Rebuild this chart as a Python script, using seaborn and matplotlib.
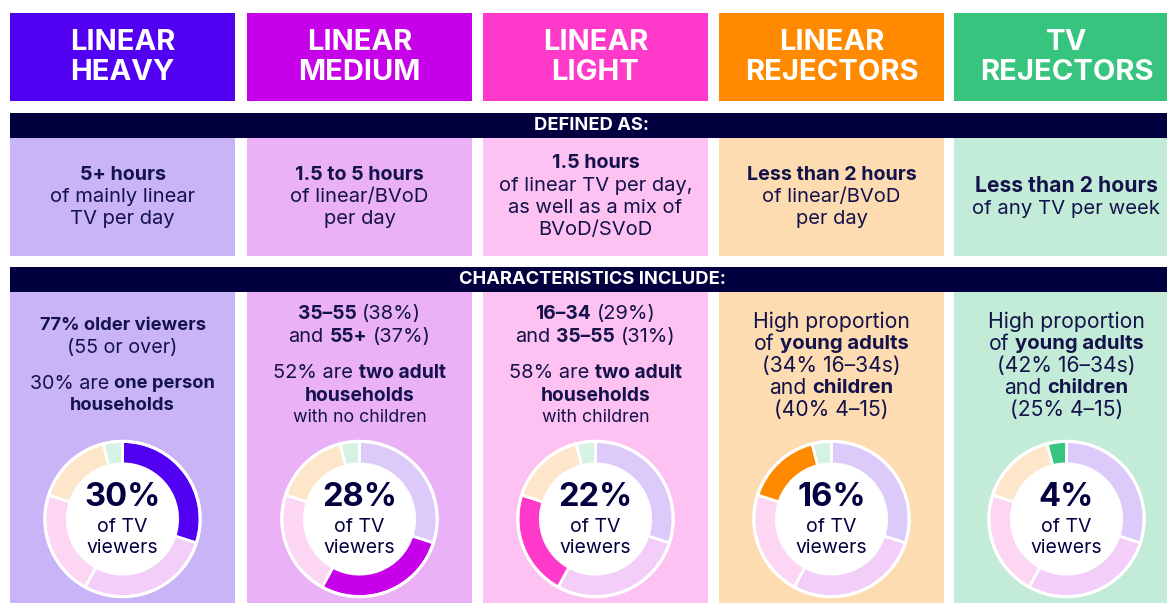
import matplotlib
matplotlib.use("Agg")
import matplotlib.pyplot as plt
from matplotlib.patches import Rectangle, Circle
import seaborn as sns

# --- data -------------------------------------------------------------
segments = ["LINEAR\nHEAVY", "LINEAR\nMEDIUM", "LINEAR\nLIGHT",
            "LINEAR\nREJECTORS", "TV\nREJECTORS"]
share_pct = [30, 28, 22, 16, 4]

# definition text per segment: list of lines, each line = [(text, bold), ...]
definitions = [
    [[("5+ hours", True)], [("of mainly linear", False)], [("TV per day", False)]],
    [[("1.5 to 5 hours", True)], [("of linear/BVoD", False)], [("per day", False)]],
    [[("1.5 hours", True)], [("of linear TV per day,", False)],
     [("as well as a mix of", False)], [("BVoD/SVoD", False)]],
    [[("Less than 2 hours", True)], [("of linear/BVoD", False)], [("per day", False)]],
    [[("Less than 2 hours", True)], [("of any TV per week", False)]],
]

characteristics = [
    [[("77% older viewers", True)], [("(55 or over)", False)], None,
     [("30% are", False), ("one person", True)], [("households", True)]],
    [[("35–55", True), ("(38%)", False)], [("and", False), ("55+", True), ("(37%)", False)], None,
     [("52% are", False), ("two adult", True)], [("households", True)],
     [("with no children", False)]],
    [[("16–34", True), ("(29%)", False)], [("and", False), ("35–55", True), ("(31%)", False)], None,
     [("58% are", False), ("two adult", True)], [("households", True)],
     [("with children", False)]],
    [[("High proportion", False)], [("of", False), ("young adults", True)],
     [("(34% 16–34s)", False)], [("and", False), ("children", True)], [("(40% 4–15)", False)]],
    [[("High proportion", False)], [("of", False), ("young adults", True)],
     [("(42% 16–34s)", False)], [("and", False), ("children", True)], [("(25% 4–15)", False)]],
]

# --- style ------------------------------------------------------------
strong = ["#5200f2", "#c600e9", "#ff3acb", "#ff8a00", "#36c47f"]
panel = ["#c9b4f8", "#ebb1f6", "#fdc2f1", "#fedcb1", "#c2ecd7"]
pale = ["#dccbfa", "#f2cef9", "#fdd6f3", "#fee6cb", "#d5f2e4"]
navy = "#02003f"
ink = "#14124a"

sns.set_theme(style="white")
plt.rcParams["font.family"] = ["Inter", "DejaVu Sans"]

W, H = 1167, 603
fig = plt.figure(figsize=(W / 100, H / 100), dpi=100)
ax = fig.add_axes([0, 0, 1, 1])
ax.set_xlim(0, W)
ax.set_ylim(H, 0)
ax.axis("off")

col_left = [10, 247, 483, 719, 954]
col_w = 225
renderer = fig.canvas.get_renderer()

# (regular, bold) font sizes per column
def_sizes = [(14.5, 14.2), (14.5, 14.2), (14.5, 14.2), (14.5, 14.2), (14.6, 15.2)]
char_sizes = [(14.2, 13.2), (14.4, 13.8), (14.4, 13.8), (15.2, 14.6), (15.2, 14.6)]


def text_width(s, size, bold):
    t = ax.text(0, 0, s, fontsize=size, fontweight="bold" if bold else "normal")
    w = t.get_window_extent(renderer=renderer).width
    t.remove()
    return w


def rich_line(cx, y, parts, reg, bold, color=ink):
    sp = text_width("x x", reg, False) - text_width("xx", reg, False)
    sizes = [bold if b else reg for _, b in parts]
    widths = [text_width(s, sz, b) for (s, b), sz in zip(parts, sizes)]
    total = sum(widths) + sp * (len(parts) - 1)
    x = cx - total / 2
    for (s, b), w, sz in zip(parts, widths, sizes):
        ax.text(x, y, s, fontsize=sz, fontweight="bold" if b else "normal",
                ha="left", va="center", color=color)
        x += w + sp


# header boxes
for i, name in enumerate(segments):
    x0 = col_left[i]
    w = min(col_w, W - x0)
    ax.add_patch(Rectangle((x0, 13), w, 88, color=strong[i], lw=0))
    l1, l2 = name.split("\n")
    ax.text(x0 + col_w / 2, 43, l1, color="white", fontsize=21,
            fontweight="bold", ha="center", va="center")
    ax.text(x0 + col_w / 2, 72, l2, color="white", fontsize=21,
            fontweight="bold", ha="center", va="center")

# dark section bars
for y0, label in [(113, "DEFINED AS:"), (267, "CHARACTERISTICS INCLUDE:")]:
    ax.add_patch(Rectangle((10, y0), W - 10, 25, color=navy, lw=0))
    ax.text(592, y0 + 13, label, color="white", fontsize=13.2,
            fontweight="bold", ha="center", va="center")

# definition panels
def_y = {2: [186, 209], 3: [175, 197, 219], 4: [163, 186, 208, 230]}
for i, lines in enumerate(definitions):
    x0 = col_left[i]
    w = min(col_w, W - x0)
    ax.add_patch(Rectangle((x0, 138), w, 118, color=panel[i], lw=0))
    ys = def_y[len(lines)]
    for y, parts in zip(ys, lines):
        rich_line(x0 + col_w / 2, y, parts, *def_sizes[i])

# characteristics panels
char_y = {
    0: [325, 348, None, 384, 406],
    1: [314, 337, None, 373, 396, 418],
    2: [314, 337, None, 373, 396, 418],
    3: [322, 344, 366, 388, 410],
    4: [322, 344, 366, 388, 410],
}
for i, lines in enumerate(characteristics):
    x0 = col_left[i]
    w = min(col_w, W - x0)
    ax.add_patch(Rectangle((x0, 292), w, H - 292, color=panel[i], lw=0))
    reg, bold = char_sizes[i]
    for k, (y, parts) in enumerate(zip(char_y[i], lines)):
        if parts is None:
            continue
        if i in (1, 2) and k == 5:
            rich_line(x0 + col_w / 2, y, parts, 12.8, bold)
        else:
            rich_line(x0 + col_w / 2, y, parts, reg, bold)

# donuts
r = 80
cy = 519
for i in range(len(segments)):
    cx = col_left[i] + col_w / 2
    dax = fig.add_axes([(cx - r) / W, 1 - (cy + r) / H, 2 * r / W, 2 * r / H])
    cols = [strong[j] if j == i else pale[j] for j in range(len(share_pct))]
    dax.pie(share_pct, colors=cols, startangle=90, counterclock=False,
            wedgeprops=dict(width=0.29, edgecolor="white", linewidth=2))
    dax.add_patch(Circle((0, 0), 0.71, color="white", lw=0, zorder=5))
    dax.add_patch(Circle((0, 0), 1.0, fill=False, ec="white", lw=2.2, zorder=6))
    dax.set_xlim(-1.03, 1.03)
    dax.set_ylim(-1.03, 1.03)
    dax.axis("off")
    # centre labels drawn on the donut axes so they sit above the ring
    dax.text(cx, 498, f"{share_pct[i]}%", fontsize=23.5, fontweight="bold",
             color=navy, ha="center", va="center", zorder=10, transform=ax.transData)
    dax.text(cx, 527, "of TV", fontsize=14, color=navy, ha="center",
             va="center", zorder=10, transform=ax.transData)
    dax.text(cx, 548, "viewers", fontsize=14, color=navy, ha="center",
             va="center", zorder=10, transform=ax.transData)

fig.savefig("out.png", dpi=100)
